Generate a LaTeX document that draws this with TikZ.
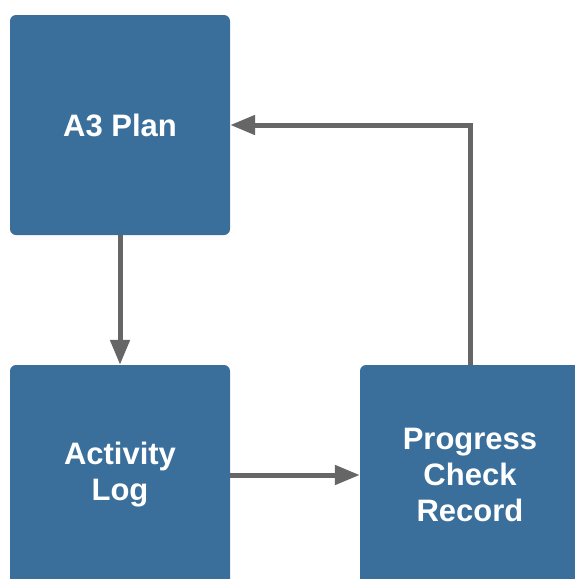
\documentclass[tikz,border=0pt]{standalone}
\usepackage{fontspec}
\setmainfont{Liberation Sans}
\usetikzlibrary{arrows.meta,positioning}
\usepackage{xcolor}
\definecolor{stepblue}{HTML}{3A6F9C}
\definecolor{flowgray}{HTML}{666666}
\tikzset{
  box/.style={draw=none, rounded corners=6pt, fill=stepblue, text=white, align=center,
    minimum width=220pt, minimum height=220pt, inner sep=0pt,
    font=\bfseries\fontsize{31}{36}\selectfont},
  arrow/.style={-{Triangle[length=25pt, width=19pt]}, line width=5pt, draw=flowgray}
}

\begin{document}
\begin{tikzpicture}[x=1pt, y=-1pt]
  \useasboundingbox (0,0) rectangle (575,579);
  \clip (0,0) rectangle (575,579);

  \node[box] (plan) at (120,125) {A3 Plan};
  \node[box] (log) at (120,475) {Activity\\Log};
  \node[box] (check) at (470,475) {Progress\\Check\\Record};

  \draw[arrow] (plan.south) -- (log.north);
  \draw[arrow] (log.east) -- (check.west);
  % loop back from the record to the plan
  \draw[arrow] (check.north) |- (plan.east);
\end{tikzpicture}
\end{document}
